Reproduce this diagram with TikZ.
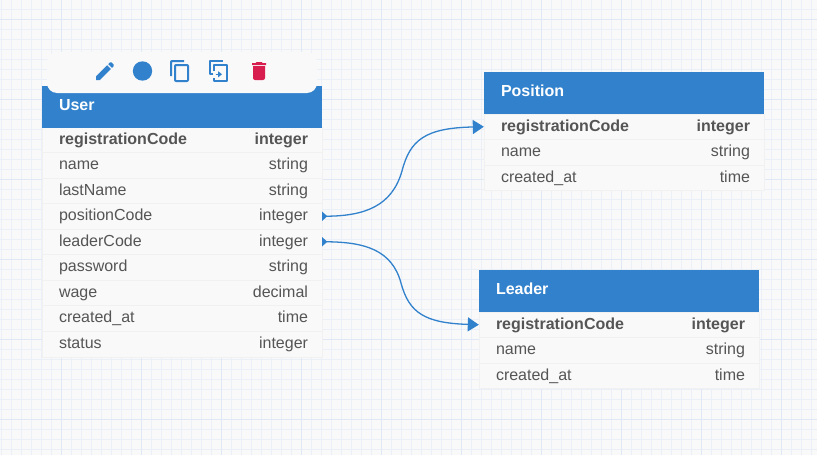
\documentclass[tikz,border=0pt]{standalone}
\usepackage{fontspec}
\setmainfont{Liberation Sans}
\usepackage{xcolor}
\usetikzlibrary{arrows.meta, svg.path}

\definecolor{bgcol}{HTML}{F9F9F9}
\definecolor{minorcol}{HTML}{EBF0F8}
\definecolor{majorcol}{HTML}{E0E7F5}
\definecolor{bluecol}{HTML}{3181CC}
\definecolor{textcol}{HTML}{555555}
\definecolor{linecol}{HTML}{F1F1F1}
\definecolor{trashcol}{HTML}{D81E4E}

\begin{document}
\begin{tikzpicture}[x=1pt, y=-1pt,
    panel/.style = {fill=bgcol, draw=linecol, line width=0.5pt, minimum width=280pt, inner sep=0pt},
    head/.style = {fill=bluecol, text=white, font=\fontsize{16}{18}\selectfont\bfseries, minimum width=280pt, minimum height=42pt, inner sep=0pt, text width=246pt, text height=12pt, text depth=5pt},
    row/.style = {text=textcol, font=\fontsize{16}{18}\selectfont, minimum width=280pt, minimum height=25.5pt, inner sep=0pt, text width=246pt, text height=12pt, text depth=3.5pt},
    key/.style = {row, font=\fontsize{16}{18}\selectfont\bfseries},
    kind/.style = {text=textcol, font=\fontsize{16}{18}\selectfont, anchor=east, xshift=-14pt, inner sep=0pt, text height=12pt, text depth=3.5pt},
    keykind/.style = {kind, font=\fontsize{16}{18}\selectfont\bfseries},
    sep/.style = {draw=linecol, line width=0.7pt},
    link/.style = {draw=bluecol, line width=1.3pt, {Triangle[reversed, length=5pt, width=9pt]}-{Triangle[length=11pt, width=14pt]}},
    icon/.style = {fill=bluecol, draw=none, even odd rule}]
    % background and grid
    \useasboundingbox (0,0) rectangle (817,455);
    \fill[bgcol] (0,0) rectangle (817,455);
    \begin{scope}[shift={(1,-1)}]
    \draw[minorcol, line width=0.5pt, step=10pt] (-10,0) grid (820,460);
    \end{scope}
    \begin{scope}[shift={(61,19)}]
    \draw[majorcol, line width=0.7pt, step=80pt] (-80,-40) grid (780,460);
    \end{scope}

    % User
    \node[panel, minimum height=230pt] (userBody) at (182,242) {};
    \node[head] (user) at (182,106.5) {User};
    \node[key] (u1) at (182,139.75) {registrationCode};
    \node[keykind] (u1t) at (u1.east) {integer};
    \node[row] (u2) at (182,165.25) {name};
    \node[kind] (u2t) at (u2.east) {string};
    \node[row] (u3) at (182,190.75) {lastName};
    \node[kind] (u3t) at (u3.east) {string};
    \node[row] (u4) at (182,216.25) {positionCode};
    \node[kind] (u4t) at (u4.east) {integer};
    \node[row] (u5) at (182,241.75) {leaderCode};
    \node[kind] (u5t) at (u5.east) {integer};
    \node[row] (u6) at (182,267.25) {password};
    \node[kind] (u6t) at (u6.east) {string};
    \node[row] (u7) at (182,292.75) {wage};
    \node[kind] (u7t) at (u7.east) {decimal};
    \node[row] (u8) at (182,318.25) {created\_at};
    \node[kind] (u8t) at (u8.east) {time};
    \node[row] (u9) at (182,343.75) {status};
    \node[kind] (u9t) at (u9.east) {integer};
    \draw[sep] (u1.south west) -- (u1.south east);
    \draw[sep] (u2.south west) -- (u2.south east);
    \draw[sep] (u3.south west) -- (u3.south east);
    \draw[sep] (u4.south west) -- (u4.south east);
    \draw[sep] (u5.south west) -- (u5.south east);
    \draw[sep] (u6.south west) -- (u6.south east);
    \draw[sep] (u7.south west) -- (u7.south east);
    \draw[sep] (u8.south west) -- (u8.south east);

    % Position
    \node[panel, minimum height=76.5pt] (posBody) at (624,152.25) {};
    \node[head] (position) at (624,93) {Position};
    \node[key] (p1) at (624,126.75) {registrationCode};
    \node[keykind] (p1t) at (p1.east) {integer};
    \node[row] (p2) at (624,152.25) {name};
    \node[kind] (p2t) at (p2.east) {string};
    \node[row] (p3) at (624,177.75) {created\_at};
    \node[kind] (p3t) at (p3.east) {time};
    \draw[sep] (p1.south west) -- (p1.south east);
    \draw[sep] (p2.south west) -- (p2.south east);

    % Leader
    \node[panel, minimum height=76.5pt] (leadBody) at (619,350.25) {};
    \node[head] (leader) at (619,291) {Leader};
    \node[key] (l1) at (619,324.75) {registrationCode};
    \node[keykind] (l1t) at (l1.east) {integer};
    \node[row] (l2) at (619,350.25) {name};
    \node[kind] (l2t) at (l2.east) {string};
    \node[row] (l3) at (619,375.75) {created\_at};
    \node[kind] (l3t) at (l3.east) {time};
    \draw[sep] (l1.south west) -- (l1.south east);
    \draw[sep] (l2.south west) -- (l2.south east);

    % connectors
    \coordinate (m1) at (402,171);
    \coordinate (m2) at (401,283);
    \draw[link] (u4.east) .. controls (365,216) and (392,206) .. (m1) .. controls (410,140) and (425,128) .. (p1.west);
    \draw[link] (u5.east) .. controls (365,242) and (392,250) .. (m2) .. controls (409,313) and (425,323) .. (l1.west);

    % toolbar
    \fill[bgcol, rounded corners=10pt] (47,52) rectangle (317,93);
    \begin{scope}[shift={(93,59)}, yscale=-1]
    \path[icon] svg {M 3 17.25 V 21 h 3.75 L 17.81 9.94 l -3.75 -3.75 L 3 17.25 z M 20.71 7.04 c 0.39 -0.39 0.39 -1.02 0 -1.41 l -2.34 -2.34 c -0.39 -0.39 -1.02 -0.39 -1.41 0 l -1.83 1.83 3.75 3.75 1.83 -1.83 z};
    \end{scope}
    \fill[bluecol] (142.5,71) circle (9.7pt);
    \begin{scope}[shift={(168,59)}, yscale=-1]
    \path[icon] svg {M 16 1 H 4 c -1.1 0 -2 0.9 -2 2 v 14 h 2 V 3 h 12 V 1 z M 19 5 H 8 c -1.1 0 -2 0.9 -2 2 v 14 c 0 1.1 0.9 2 2 2 h 11 c 1.1 0 2 -0.9 2 -2 V 7 c 0 -1.1 -0.9 -2 -2 -2 z M 19 21 H 8 V 7 h 11 v 14 z};
    \end{scope}
    \draw[bluecol, line width=2pt, line join=round] (223,61) -- (210.3,61) -- (210.3,74) -- (213,74);
    \draw[bluecol, line width=2pt, line join=round] (214.3,71) -- (214.3,65.3) -- (227,65.3) -- (227,80.7) -- (214.3,80.7) -- (214.3,77.5);
    \draw[bluecol, line width=1.6pt, -{Triangle[length=4pt, width=6pt]}] (215.5,74.3) -- (222,74.3);
    \begin{scope}[shift={(247,59)}, yscale=-1]
    \path[fill=trashcol, even odd rule] svg {M 6 19 c 0 1.1 0.9 2 2 2 h 8 c 1.1 0 2 -0.9 2 -2 V 7 H 6 v 12 z M 19 4 h -3.5 l -1 -1 h -5 l -1 1 H 5 v 2 h 14 V 4 z};
    \end{scope}
\end{tikzpicture}
\end{document}
